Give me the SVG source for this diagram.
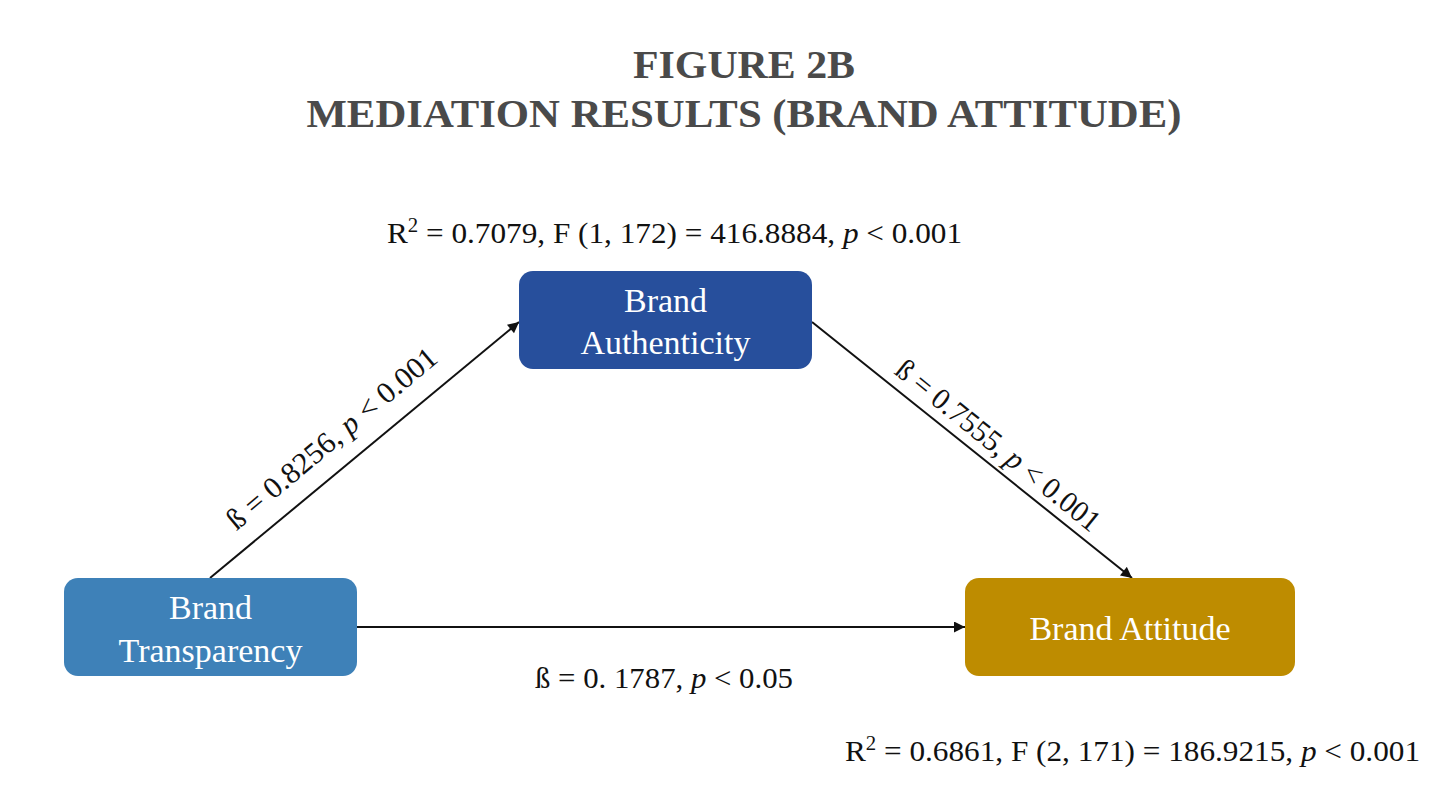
<svg xmlns="http://www.w3.org/2000/svg" width="1436" height="794" viewBox="0 0 1436 794">
<style>
.title{font-family:"Liberation Serif","Times New Roman",serif;font-weight:bold;font-size:41px;fill:#4a4a4a;text-anchor:middle}
.lbl{font-family:"Liberation Serif","Times New Roman",serif;font-size:30px;fill:#111111}
.node text{font-family:"Liberation Serif","Times New Roman",serif;font-size:34px;fill:#ffffff;text-anchor:middle}
.edge{stroke:#111111;stroke-width:2;fill:none;marker-end:url(#arr)}
</style>
<defs>
<marker id="arr" viewBox="0 0 10 10" refX="10" refY="5" markerWidth="13" markerHeight="11" markerUnits="userSpaceOnUse" orient="auto">
<path d="M0,0 L10,5 L0,10 z" fill="#111111"/>
</marker>
</defs>
<rect width="1436" height="794" fill="#ffffff"/>
<text class="title" x="744" y="78" textLength="222" lengthAdjust="spacingAndGlyphs">FIGURE 2B</text>
<text class="title" x="744" y="127" textLength="875" lengthAdjust="spacingAndGlyphs">MEDIATION RESULTS (BRAND ATTITUDE)</text>

<g id="connectors">
<line class="edge" x1="210" y1="578" x2="519" y2="322"/>
<line class="edge" x1="812" y1="322" x2="1132" y2="578"/>
<line class="edge" x1="357" y1="627" x2="965" y2="627"/>
</g>

<g id="node-authenticity" class="node">
<rect x="519" y="271" width="293" height="98" rx="14" fill="#274F9C"/>
<text x="665.5" y="312">Brand</text>
<text x="665.5" y="354">Authenticity</text>
</g>
<g id="node-transparency" class="node">
<rect x="64" y="578" width="293" height="98" rx="14" fill="#3E81B8"/>
<text x="210.5" y="619">Brand</text>
<text x="210.5" y="662">Transparency</text>
</g>
<g id="node-attitude" class="node">
<rect x="965" y="578" width="330" height="98" rx="14" fill="#BE8C00"/>
<text x="1130" y="640">Brand Attitude</text>
</g>

<g id="labels">
<text class="lbl" x="387" y="243" textLength="575" lengthAdjust="spacingAndGlyphs">R<tspan font-size="20" dy="-11">2</tspan><tspan dy="11"> = 0.7079, F (1, 172) = 416.8884, </tspan><tspan font-style="italic">p</tspan> &lt; 0.001</text>
<text class="lbl" transform="translate(338,446) rotate(-40)" text-anchor="middle" textLength="265" lengthAdjust="spacingAndGlyphs">ß = 0.8256, <tspan font-style="italic">p</tspan> &lt; 0.001</text>
<text class="lbl" transform="translate(992,453) rotate(39)" text-anchor="middle" textLength="254" lengthAdjust="spacingAndGlyphs">ß = 0.7555, <tspan font-style="italic">p</tspan> &lt; 0.001</text>
<text class="lbl" x="535" y="688" textLength="258" lengthAdjust="spacingAndGlyphs">ß = 0. 1787, <tspan font-style="italic">p</tspan> &lt; 0.05</text>
<text class="lbl" x="845" y="761" textLength="575" lengthAdjust="spacingAndGlyphs">R<tspan font-size="20" dy="-11">2</tspan><tspan dy="11"> = 0.6861, F (2, 171) = 186.9215, </tspan><tspan font-style="italic">p</tspan> &lt; 0.001</text>
</g>
</svg>
